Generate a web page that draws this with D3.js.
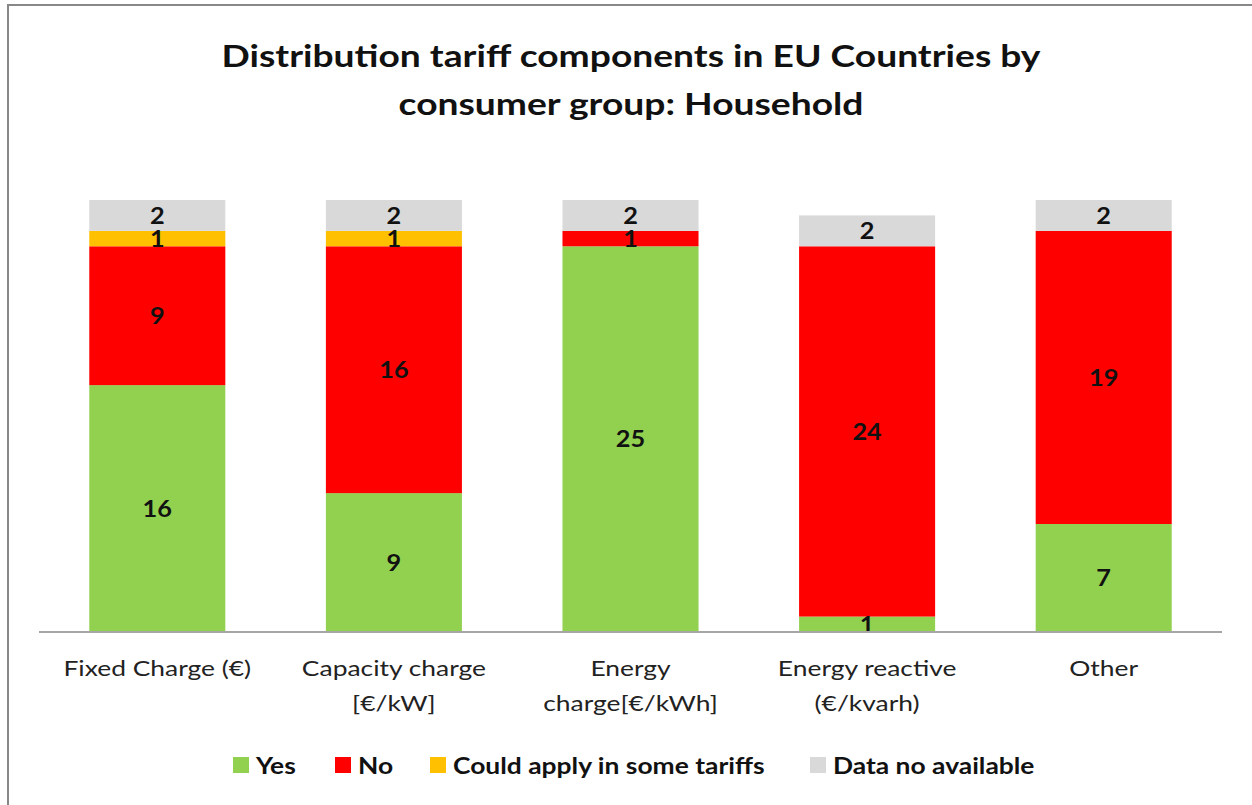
<!DOCTYPE html>
<html>
<head>
<meta charset="utf-8">
<script src="https://cdn.jsdelivr.net/npm/d3@7"></script>
<style>
  body { margin: 0; background: #fff; }
  text { font-family: Lato, "Open Sans", sans-serif; }
</style>
</head>
<body>
<svg width="1252" height="805"></svg>
<script>
// chart data
const categories = ["Fixed Charge (€)", "Capacity charge [€/kW]", "Energy charge[€/kWh]", "Energy reactive (€/kvarh)", "Other"];
const categoryLines = [["Fixed Charge (€)"], ["Capacity charge", "[€/kW]"], ["Energy", "charge[€/kWh]"], ["Energy reactive", "(€/kvarh)"], ["Other"]];
const seriesNames = ["Yes", "No", "Could apply in some tariffs", "Data no available"];
const yesValues = [16, 9, 25, 1, 7];
const noValues = [9, 16, 1, 24, 19];
const couldValues = [1, 1, 0, 0, 0];
const noDataValues = [2, 2, 2, 2, 2];
const colors = ["#92D050", "#FF0000", "#FFC000", "#D9D9D9"];

let svg = d3.select("svg");

//widen text a bit, the original font is stretched sideways
function stretch(sel, k) {
  sel.each(function() {
    let w = this.getComputedTextLength();
    d3.select(this).attr("textLength", w * k).attr("lengthAdjust", "spacingAndGlyphs");
  });
}

// border of chart area
svg.append("rect")
  .attr("x", 8).attr("y", 5)
  .attr("width", 1260).attr("height", 820)
  .attr("fill", "none")
  .attr("stroke", "#888")
  .attr("stroke-width", 2);

// title
let titleLines = ["Distribution tariff components in EU Countries by", "consumer group: Household"];
let title = svg.selectAll(".title")
  .data(titleLines)
  .enter()
  .append("text")
  .attr("class", "title")
  .attr("x", 631)
  .attr("y", function(d, i) { return 67 + i * 48; })
  .attr("text-anchor", "middle")
  .attr("font-size", 31)
  .attr("font-weight", "bold")
  .attr("fill", "#111")
  .text(function(d) { return d; });
stretch(title, 1.2);

let rows = categories.map(function(c, i) {
  return { cat: c, "Yes": yesValues[i], "No": noValues[i], "Could apply in some tariffs": couldValues[i], "Data no available": noDataValues[i] };
});

let stack = d3.stack().keys(seriesNames)(rows);

let x = d3.scaleBand().domain(categories).range([39, 1222]).paddingInner(0.425).paddingOuter(0.2125);
let y = d3.scaleLinear().domain([0, 28]).range([632, 200]);

let g = svg.append("g");

stack.forEach(function(layer, li) {
  g.selectAll(".bar" + li)
    .data(layer)
    .enter()
    .append("rect")
    .attr("x", function(d) { return x(d.data.cat); })
    .attr("y", function(d) { return y(d[1]); })
    .attr("width", x.bandwidth())
    .attr("height", function(d) { return y(d[0]) - y(d[1]); })
    .attr("fill", colors[li]);
});

// value labels
stack.forEach(function(layer) {
  let labels = g.selectAll(null)
    .data(layer.filter(function(d) { return d[1] - d[0] > 0; }))
    .enter()
    .append("text")
    .attr("x", function(d) { return x(d.data.cat) + x.bandwidth() / 2; })
    .attr("y", function(d) { return (y(d[0]) + y(d[1])) / 2; })
    .attr("dy", "0.36em")
    .attr("text-anchor", "middle")
    .attr("font-size", 23)
    .attr("font-weight", "bold")
    .attr("fill", "#111")
    .text(function(d) { return d[1] - d[0]; });
  stretch(labels, 1.1);
});

// x axis
let xAxis = svg.append("g")
  .attr("transform", "translate(0,632)")
  .call(d3.axisBottom(x).tickSize(0).tickFormat(""));
xAxis.select(".domain").attr("stroke", "#a6a6a6").attr("stroke-width", 2).attr("d", "M39,0H1222");

categories.forEach(function(c, i) {
  let t = svg.selectAll(null)
    .data(categoryLines[i])
    .enter()
    .append("text")
    .attr("x", x(c) + x.bandwidth() / 2)
    .attr("y", function(d, j) { return 676 + j * 35; })
    .attr("text-anchor", "middle")
    .attr("font-size", 22)
    .attr("fill", "#222")
    .text(function(d) { return d; });
  stretch(t, 1.2);
});

// legend
const legendX = [233, 335, 430, 810];
seriesNames.forEach(function(s, i) {
  svg.append("rect")
    .attr("x", legendX[i]).attr("y", 757)
    .attr("width", 16).attr("height", 16)
    .attr("fill", colors[i]);
  let t = svg.append("text")
    .attr("x", legendX[i] + 23).attr("y", 774)
    .attr("font-size", 22)
    .attr("font-weight", "bold")
    .attr("fill", "#111")
    .text(s);
  stretch(t, 1.2);
});
</script>
</body>
</html>
